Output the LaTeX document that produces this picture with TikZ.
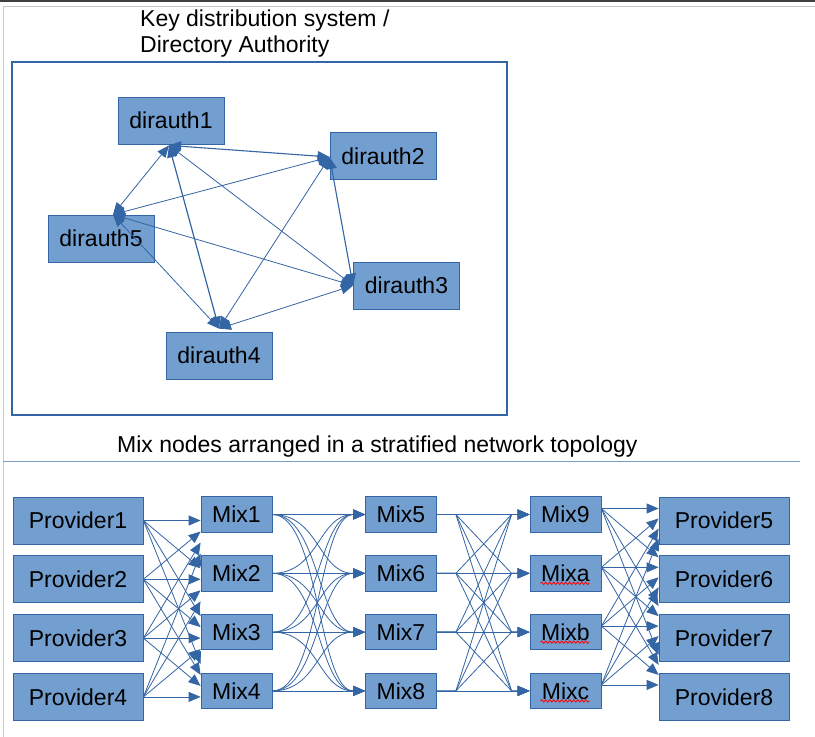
\documentclass[tikz,border=0pt]{standalone}
\usepackage{fontspec}
\setmainfont{Liberation Sans}
\usetikzlibrary{arrows.meta,calc,decorations.pathmorphing}
\definecolor{lineblue}{HTML}{3465A4}
\definecolor{fillblue}{HTML}{729FCF}
\definecolor{framegray}{HTML}{C8C8C8}
\definecolor{sepblue}{HTML}{7F9CC4}
\begin{document}
\begin{tikzpicture}[x=1pt,y=-1pt,
  every node/.style={font=\fontsize{23}{26}\selectfont},
  box/.style={draw=lineblue, fill=fillblue, line width=0.8pt, inner sep=0pt, text height=16.5pt, text depth=0pt},
  dabox/.style={box, minimum width=106pt, minimum height=47pt},
  pbox/.style={box, minimum width=130pt, minimum height=47pt},
  mbox/.style={box, minimum width=71pt, minimum height=35.5pt},
  conn/.style={draw=lineblue, line width=0.8pt},
  tip/.style={-{Triangle[length=12pt,width=10pt]}},
  both/.style={{Triangle[length=12pt,width=10pt]}-{Triangle[length=12pt,width=10pt]}},
  squiggle/.style={draw=red, line width=0.8pt, decorate, decoration={snake, amplitude=1.2pt, segment length=4pt}},
  title/.style={anchor=base west, inner sep=0pt},
]
\useasboundingbox (0,0) rectangle (815,737);
\fill[white] (0,0) rectangle (815,737);
% page frame
\draw[black!75, line width=1.7pt] (0,0.85) -- (815,0.85);
\draw[framegray, line width=1.3pt] (3.5,737) -- (3.5,6.5) -- (815,6.5);
\draw[sepblue, line width=1.2pt] (3,461.5) -- (800,461.5);

% titles
\node[title] (t1) at (140,26) {Key distribution system /};
\node[title] (t2) at (140,52) {Directory Authority};
\node[title] (t3) at (117,452) {Mix nodes arranged in a stratified network topology};

% directory authority frame
\draw[lineblue, line width=1.2pt] (12,62) rectangle (507,415);

\node[dabox] (d1) at (171,120.5) {dirauth1};
\node[dabox] (d2) at (383,156) {dirauth2};
\node[dabox] (d3) at (406.5,285.5) {dirauth3};
\node[dabox] (d4) at (219,355.5) {dirauth4};
\node[dabox] (d5) at (101,238.5) {dirauth5};

\coordinate (c1) at ($(d1.south)+(-2,1)$);
\coordinate (c2) at ($(d2.west)+(0,1)$);
\coordinate (c3) at (d3.west);
\coordinate (c4) at ($(d4.north)+(0,-3)$);
\coordinate (c5) at ($(d5.north)+(12,0)$);

\draw[conn,both,line width=1.1pt] (c1) -- (c2);
\draw[conn,both] (c1) -- (c5);
\draw[conn,both,line width=1.2pt] (c1) -- (c4);
\draw[conn,both] (c1) -- (c3);
\draw[conn,both] (c2) -- (c5);
\draw[conn,both] (c2) -- (c4);
\draw[conn,both,line width=1.1pt] (c2) -- (c3);
\draw[conn,both] (c5) -- (c3);
\draw[conn,both] (c5) -- (c4);
\draw[conn,both] (c4) -- (c3);

% stratified network
\foreach \i/\y in {1/520.5,2/579.3,3/638.1,4/696.9} {
  \node[pbox] (p\i) at (78,\y) {Provider\i};
}
\foreach \i/\y in {5/520.5,6/579.3,7/638.1,8/696.9} {
  \node[pbox] (p\i) at (724,\y) {Provider\i};
}
\foreach \i/\y in {1/514.5,2/573.3,3/632.1,4/690.9} {
  \node[mbox] (m\i) at (236.5,\y) {Mix\i};
}
\foreach \i/\y in {5/514.5,6/573.3,7/632.1,8/690.9} {
  \node[mbox] (m\i) at (401,\y) {Mix\i};
}
\foreach \i/\y in {9/514.5,a/573.3,b/632.1,c/690.9} {
  \node[mbox] (m\i) at (565.5,\y) {Mix\i};
}

% providers -> first layer
\foreach \i in {1,...,4} {
  \foreach \j in {1,...,4} {
    \draw[conn,tip] (p\i.east) -- ($(m\j.west)+(0,{6+(\i-\j)*11})$);
  }
}
% first layer -> second layer (curved)
\foreach \i in {1,...,4} {
  \foreach \j in {5,...,8} {
    \draw[conn,tip] (m\i.east) .. controls +(47,0) and +(-47,0) .. (m\j.west);
  }
}
% second layer -> third layer
\foreach \a in {5,...,8} {
  \foreach \b in {9,a,b,c} {
    \draw[conn,tip] (m\a.east) -- ++(19,0) -- ($(m\b.west)+(-18,0)$) -- (m\b.west);
  }
}
% third layer -> providers
\foreach \a/\k in {9/1,a/2,b/3,c/4} {
  \foreach \l in {1,...,4} {
    \pgfmathtruncatemacro\pl{\l+4}
    \draw[conn,tip] ($(m\a.east)+(0,-6)$) -- ($(p\pl.west)+(0,{-12+(\k-\l)*10})$);
  }
}

% spell-check underlines
\foreach \a in {a,b,c} {
  \draw[squiggle] ($(m\a.center)+(-25,10)$) -- ($(m\a.center)+(24,10)$);
}
\end{tikzpicture}
\end{document}
